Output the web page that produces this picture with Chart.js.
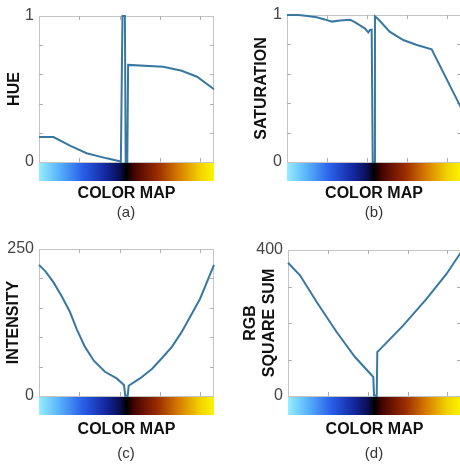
<!DOCTYPE html>
<html>
<head>
<meta charset="utf-8">
<script src="https://cdn.jsdelivr.net/npm/chart.js@4"></script>
<style>
body { margin:0; width:460px; height:464px; overflow:hidden; background:#fff; position:relative; font-family:"Liberation Sans", Arial, sans-serif; }
canvas { position:absolute; }
.cap { position:absolute; font-size:15px; color:#333; transform:translate(-50%,-50%); }
</style>
</head>
<body>
<canvas id="chart_a" width="230" height="232" style="left:0;top:0"></canvas>
<canvas id="chart_b" width="240" height="232" style="left:230px;top:0"></canvas>
<canvas id="chart_c" width="230" height="232" style="left:0;top:232px"></canvas>
<canvas id="chart_d" width="240" height="232" style="left:230px;top:232px"></canvas>
<div class="cap" style="left:126px;top:211px">(a)</div>
<div class="cap" style="left:374px;top:211px">(b)</div>
<div class="cap" style="left:126px;top:452px">(c)</div>
<div class="cap" style="left:374px;top:452px">(d)</div>
<script>
// DATA (x = colour map index, 0 .. 217, black in the middle)
const xTicks = [50, 100, 150, 200];

const hueX = [0, 18, 38.4, 59, 84, 100, 101.5, 103.5, 106.5, 107.5, 109.5, 110.5, 154, 177, 196, 217];
const hueY = [0.171, 0.171, 0.112, 0.06, 0.025, 0.005, 0, 1, 1, 0, 0, 0.665, 0.653, 0.625, 0.584, 0.498];

const satX = [0, 14, 23, 37, 47, 56, 66, 78.6, 85, 91, 97, 101.4, 103.5, 105.6, 106.9, 108.5, 109.7, 114, 128, 145, 162, 180.4, 217];
const satY = [1, 1, 0.995, 0.984, 0.97, 0.955, 0.962, 0.968, 0.95, 0.93, 0.909, 0.882, 0.898, 0.9, 0, 0, 0.99, 0.971, 0.887, 0.83, 0.796, 0.767, 0.37];

const intX = [0, 8, 17.8, 28, 38.4, 47, 57, 68, 81.8, 96.3, 105.4, 107, 110, 111.2, 125.2, 140, 152, 165, 177, 199.6, 217];
const intY = [223, 212, 193.6, 170, 142.8, 113, 83.5, 60, 41.2, 29.9, 18.6, 0.5, 0.5, 17.5, 29.9, 46, 63.8, 84, 109, 165, 223];

const sqX = [0, 15, 36, 61, 84, 107, 107.9, 111.3, 112, 115.4, 144.6, 174, 199, 217];
const sqY = [365, 330.6, 257.5, 175.3, 106.8, 52, 1.8, 0, 120.5, 127.8, 193.6, 266.7, 335, 394];

// colour map under each plot
const cmapStops  = [0, 0.12, 0.25, 0.38, 0.46, 0.5, 0.55, 0.68, 0.8, 0.92, 1];
const cmapColors = ['rgb(150,238,255)', 'rgb(85,175,250)', 'rgb(40,95,232)', 'rgb(20,40,160)', 'rgb(10,15,85)', 'rgb(0,0,0)',
                    'rgb(75,5,0)', 'rgb(155,45,0)', 'rgb(215,125,0)', 'rgb(242,210,0)', 'rgb(250,245,0)'];

const boxPlugin = {
  id: 'box',
  beforeDatasetsDraw(chart) {
    const { ctx, chartArea: a, scales } = chart;
    ctx.save();
    ctx.strokeStyle = '#c4c4c4';
    ctx.lineWidth = 1;
    ctx.strokeRect(a.left + 0.5, a.top + 0.5, a.right - a.left - 1, a.bottom - a.top);
    ctx.strokeStyle = '#b0b0b0';
    ctx.beginPath();
    scales.y.ticks.forEach(t => {
      if (t.value <= scales.y.min || t.value >= scales.y.max) return;
      const y = Math.round(scales.y.getPixelForValue(t.value)) + 0.5;
      ctx.moveTo(a.left, y); ctx.lineTo(a.left + 4, y);
      ctx.moveTo(a.right - 4, y); ctx.lineTo(a.right, y);
    });
    xTicks.forEach(v => {
      const x = Math.round(scales.x.getPixelForValue(v)) + 0.5;
      ctx.moveTo(x, a.top); ctx.lineTo(x, a.top + 4);
      ctx.moveTo(x, a.bottom); ctx.lineTo(x, a.bottom - 4);
    });
    ctx.stroke();
    ctx.restore();
  },
  afterDraw(chart) {
    const { ctx, chartArea: a } = chart;
    const g = ctx.createLinearGradient(a.left, 0, a.right, 0);
    cmapStops.forEach((s, i) => g.addColorStop(s, cmapColors[i]));
    ctx.save();
    ctx.fillStyle = g;
    ctx.fillRect(a.left, a.bottom + 1, a.right - a.left, 18);
    ctx.restore();
  }
};

function makeChart(id, xs, ys, c) {
  const points = xs.map((x, i) => ({ x: x, y: ys[i] }));
  return new Chart(document.getElementById(id), {
    type: 'line',
    data: {
      datasets: [{
        data: points,
        borderColor: '#3878a0',
        borderWidth: 2,
        pointRadius: 0,
        tension: 0,
        clip: 3
      }]
    },
    options: {
      responsive: false,
      animation: false,
      layout: { padding: { left: 0, top: c.padT, right: c.padR, bottom: 0 } },
      plugins: { legend: { display: false }, tooltip: { enabled: false } },
      scales: {
        x: {
          type: 'linear', min: 0, max: 217,
          grid: { display: false, drawTicks: false, tickLength: 0 }, border: { display: false },
          ticks: { display: false },
          title: { display: true, text: 'COLOR MAP', color: '#111',
                   font: { family: 'Liberation Sans', size: 16, weight: 'bold' },
                   padding: { top: 0, bottom: c.xPadB } },
          afterFit: s => { s.height = c.hX; }
        },
        y: {
          min: 0, max: c.yMax,
          grid: { display: false, drawTicks: false, tickLength: 0 }, border: { display: false },
          ticks: { stepSize: c.yStep, padding: 5, color: '#444',
                   font: { family: 'Liberation Sans', size: 16 },
                   callback: v => (v === 0 || v === c.yMax) ? v : '' },
          title: { display: true, text: c.yTitle, color: '#111',
                   font: { family: 'Liberation Sans', size: 16, weight: 'bold' },
                   padding: { top: c.yPad, bottom: 0 } },
          afterFit: s => { s.width = c.wY; }
        }
      }
    },
    plugins: [boxPlugin]
  });
}

makeChart('chart_a', hueX, hueY, { padT: 16, padR: 16, wY: 39, hX: 70, yMax: 1, yStep: 0.2, yTitle: 'HUE', yPad: 5.4, xPadB: 28.4 });
makeChart('chart_b', satX, satY, { padT: 15, padR: 9, wY: 57, hX: 70, yMax: 1, yStep: 0.2, yTitle: 'SATURATION', yPad: 22.4, xPadB: 28.4 });
makeChart('chart_c', intX, intY, { padT: 17, padR: 16, wY: 39, hX: 68, yMax: 250, yStep: 50, yTitle: 'INTENSITY', yPad: 4.4, xPadB: 24.4 });
makeChart('chart_d', sqX, sqY, { padT: 18, padR: 9, wY: 58, hX: 68, yMax: 400, yStep: 100, yTitle: ['RGB', 'SQUARE SUM'], yPad: 11, xPadB: 24.4 });
</script>
</body>
</html>
